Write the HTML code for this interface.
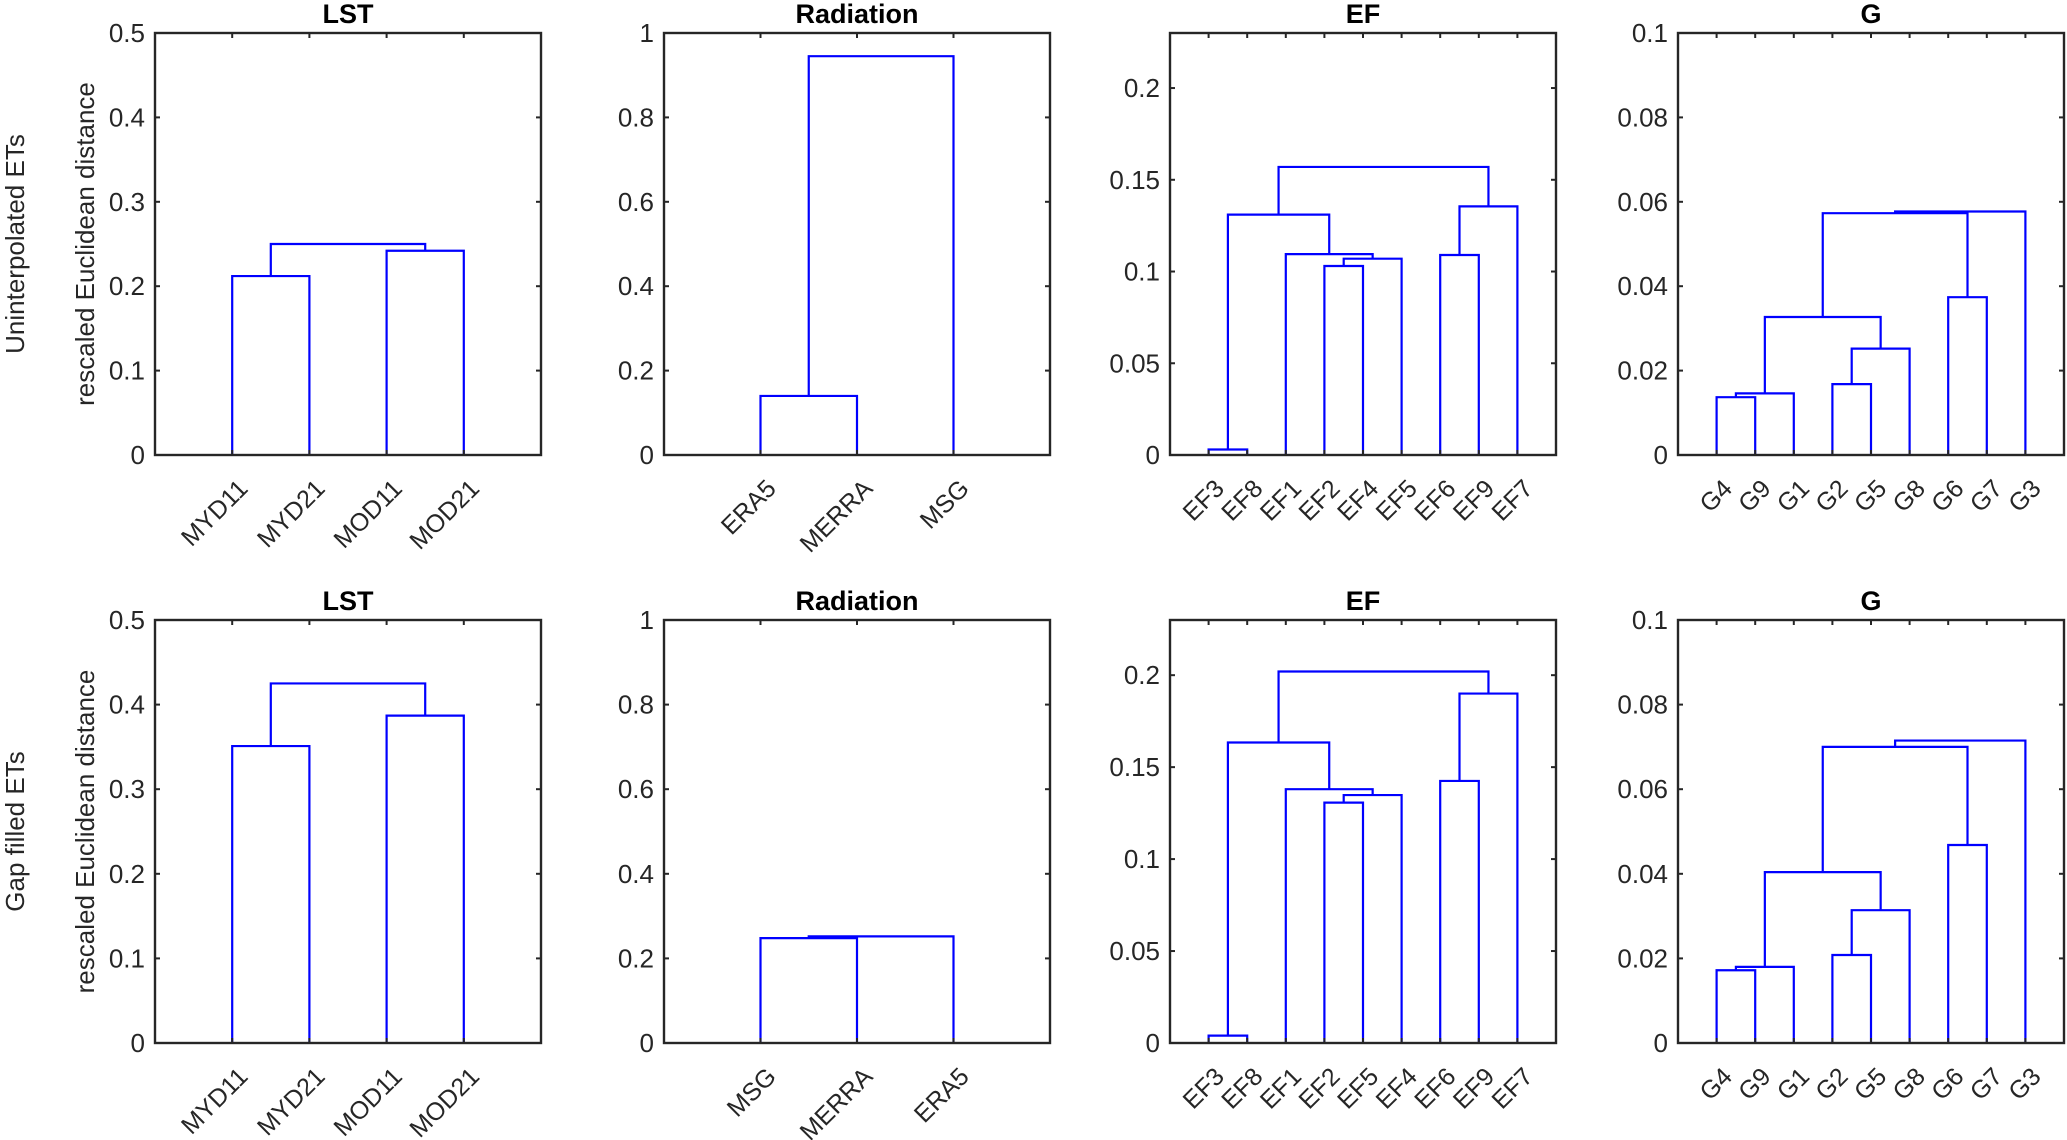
<!DOCTYPE html>
<html><head><meta charset="utf-8"><style>
html,body{margin:0;padding:0;background:#fff;}
svg{display:block;font-family:"Liberation Sans",Arial,sans-serif;}
</style></head><body>
<svg id="s" width="2067" height="1140" viewBox="0 0 2067 1140" xmlns="http://www.w3.org/2000/svg"></svg>
<script>
const S=document.getElementById('s');
let out='';
const rows=[{t:33,b:455},{t:620,b:1043}];
const cols=[155,664,1170,1678];
const W=386;
function fmt(v){return String(+v.toFixed(4));}
function panel(L,T,B,title,ymax,ticks,leaves,links){
  const R=L+W,n=leaves.length;
  const X=i=>L+(i)*W/(n+1);
  const Y=v=>B-(v/ymax)*(B-T);
  out+=`<text x="${L+W/2}" y="${T-10}" font-size="27" font-weight="bold" text-anchor="middle" fill="#000">${title}</text>`;
  for(const [x1,y1,x2,y2,h] of links){
    out+=`<polyline points="${X(x1)},${Y(y1)} ${X(x1)},${Y(h)} ${X(x2)},${Y(h)} ${X(x2)},${Y(y2)}" fill="none" stroke="#0000ff" stroke-width="2.2"/>`;
  }
  out+=`<rect x="${L}" y="${T}" width="${W}" height="${B-T}" fill="none" stroke="#262626" stroke-width="2.4"/>`;
  for(const v of ticks){
    const y=Y(v);
    out+=`<line x1="${L}" y1="${y}" x2="${L+5}" y2="${y}" stroke="#262626" stroke-width="2"/><line x1="${R}" y1="${y}" x2="${R-5}" y2="${y}" stroke="#262626" stroke-width="2"/>`;
    out+=`<text x="${L-10}" y="${y+9}" font-size="26" text-anchor="end" fill="#262626">${fmt(v)}</text>`;
  }
  leaves.forEach((lb,i)=>{
    const x=X(i+1);
    out+=`<line x1="${x}" y1="${T}" x2="${x}" y2="${T+5}" stroke="#262626" stroke-width="2"/><line x1="${x}" y1="${B}" x2="${x}" y2="${B-5}" stroke="#262626" stroke-width="2"/>`;
    out+=`<text transform="translate(${x+17},${B+35}) rotate(-45)" font-size="25" text-anchor="end" fill="#262626">${lb}</text>`;
  });
}
const lstT=[0,0.1,0.2,0.3,0.4,0.5], radT=[0,0.2,0.4,0.6,0.8,1], efT=[0,0.05,0.1,0.15,0.2], gT=[0,0.02,0.04,0.06,0.08,0.1];
let r=rows[0];
panel(cols[0],r.t,r.b,'LST',0.5,lstT,['MYD11','MYD21','MOD11','MOD21'],
 [[1,0,2,0,0.212],[3,0,4,0,0.242],[1.5,0.212,3.5,0.242,0.250]]);
panel(cols[1],r.t,r.b,'Radiation',1,radT,['ERA5','MERRA','MSG'],
 [[1,0,2,0,0.14],[1.5,0.14,3,0,0.945]]);
panel(cols[2],r.t,r.b,'EF',0.23,efT,['EF3','EF8','EF1','EF2','EF4','EF5','EF6','EF9','EF7'],
 [[1,0,2,0,0.003],[4,0,5,0,0.103],[4.5,0.103,6,0,0.107],[3,0,5.25,0.107,0.1095],[1.5,0.003,4.125,0.1095,0.131],
  [7,0,8,0,0.109],[7.5,0.109,9,0,0.1355],[2.8125,0.131,8.25,0.1355,0.157]]);
panel(cols[3],r.t,r.b,'G',0.1,gT,['G4','G9','G1','G2','G5','G8','G6','G7','G3'],
 [[1,0,2,0,0.0137],[1.5,0.0137,3,0,0.0146],[4,0,5,0,0.0168],[4.5,0.0168,6,0,0.0252],[2.25,0.0146,5.25,0.0252,0.0327],
  [7,0,8,0,0.0374],[3.75,0.0327,7.5,0.0374,0.0573],[5.625,0.0573,9,0,0.0577]]);
r=rows[1];
panel(cols[0],r.t,r.b,'LST',0.5,lstT,['MYD11','MYD21','MOD11','MOD21'],
 [[1,0,2,0,0.351],[3,0,4,0,0.387],[1.5,0.351,3.5,0.387,0.425]]);
panel(cols[1],r.t,r.b,'Radiation',1,radT,['MSG','MERRA','ERA5'],
 [[1,0,2,0,0.248],[1.5,0.248,3,0,0.252]]);
panel(cols[2],r.t,r.b,'EF',0.23,efT,['EF3','EF8','EF1','EF2','EF5','EF4','EF6','EF9','EF7'],
 [[1,0,2,0,0.004],[4,0,5,0,0.1307],[4.5,0.1307,6,0,0.1348],[3,0,5.25,0.1348,0.138],[1.5,0.004,4.125,0.138,0.1634],
  [7,0,8,0,0.1425],[7.5,0.1425,9,0,0.190],[2.8125,0.1634,8.25,0.190,0.202]]);
panel(cols[3],r.t,r.b,'G',0.1,gT,['G4','G9','G1','G2','G5','G8','G6','G7','G3'],
 [[1,0,2,0,0.0172],[1.5,0.0172,3,0,0.018],[4,0,5,0,0.0208],[4.5,0.0208,6,0,0.0314],[2.25,0.018,5.25,0.0314,0.0404],
  [7,0,8,0,0.0468],[3.75,0.0404,7.5,0.0468,0.070],[5.625,0.070,9,0,0.0715]]);
[['Uninterpolated ETs',rows[0]],['Gap filled ETs',rows[1]]].forEach(([t,r])=>{
  const cy=(r.t+r.b)/2;
  out+=`<text transform="translate(24,${cy}) rotate(-90)" font-size="26" text-anchor="middle" fill="#262626">${t}</text>`;
  out+=`<text transform="translate(94,${cy}) rotate(-90)" font-size="26" text-anchor="middle" fill="#262626">rescaled Euclidean distance</text>`;
});
S.innerHTML=out;
</script>
</body></html>
